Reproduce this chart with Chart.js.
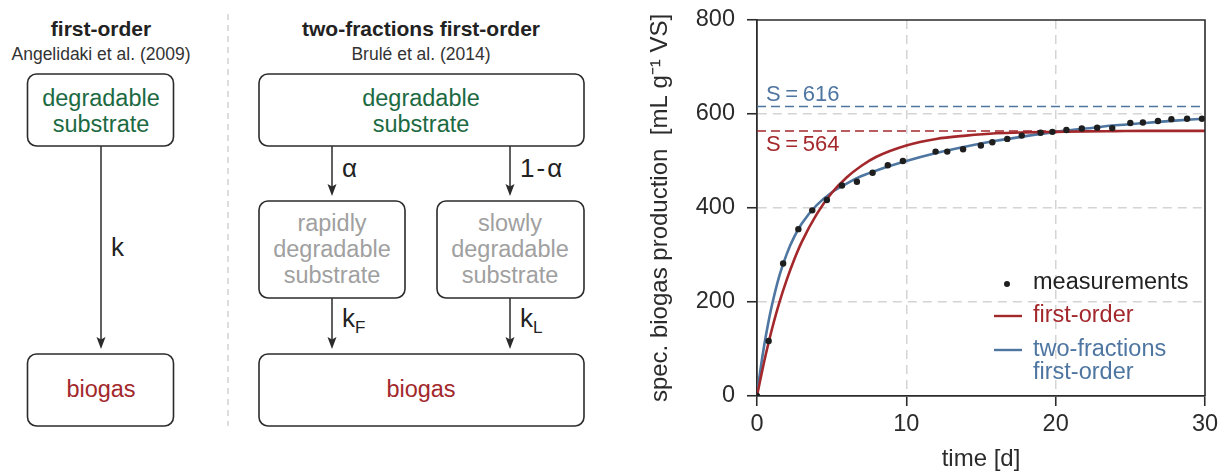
<!DOCTYPE html>
<html>
<head>
<meta charset="utf-8">
<script src="https://cdn.jsdelivr.net/npm/chart.js@4.4.0/dist/chart.umd.min.js"></script>
<style>
  html, body { margin: 0; padding: 0; background: #fff; }
  #wrap { position: relative; width: 1219px; height: 472px; overflow: hidden; font-family: 'Liberation Sans', Arial, sans-serif; }
  #diagram { position: absolute; left: 0; top: 0; }
  #chartBox { position: absolute; left: 640px; top: 0; width: 579px; height: 472px; }
</style>
</head>
<body>
<div id="wrap">
<svg id="diagram" width="640" height="472" xmlns="http://www.w3.org/2000/svg" font-family="Liberation Sans, Arial, sans-serif">
  <!-- separator -->
  <line x1="228" y1="14" x2="228" y2="426" stroke="#d2d2d2" stroke-width="1.5" stroke-dasharray="6,5"/>

  <!-- first-order -->
  <text x="101" y="28" text-anchor="middle" dominant-baseline="central" font-size="21" font-weight="bold" fill="#222">first-order</text>
  <text x="101" y="54" text-anchor="middle" dominant-baseline="central" font-size="17.5" fill="#333">Angelidaki et al. (2009)</text>
  <rect x="27.5" y="74" width="146" height="72" rx="9" ry="9" fill="none" stroke="#2b2b2b" stroke-width="1.6"/>
  <text x="101" y="98" text-anchor="middle" dominant-baseline="central" font-size="23.5" fill="#1c6a42">degradable</text>
  <text x="101" y="124" text-anchor="middle" dominant-baseline="central" font-size="23.5" fill="#1c6a42">substrate</text>
  <line x1="101" y1="146" x2="101" y2="342" stroke="#2b2b2b" stroke-width="1.5"/>
  <path d="M96.5,337 L101,349 L105.5,337 L101,339.5 Z" fill="#2b2b2b"/>
  <text x="111" y="247" dominant-baseline="central" font-size="26" fill="#222">k</text>
  <rect x="27.5" y="354" width="146" height="72" rx="9" ry="9" fill="none" stroke="#2b2b2b" stroke-width="1.6"/>
  <text x="101" y="389" text-anchor="middle" dominant-baseline="central" font-size="23.5" fill="#a3282c">biogas</text>

  <!-- two-fractions -->
  <text x="421" y="28" text-anchor="middle" dominant-baseline="central" font-size="21" font-weight="bold" fill="#222">two-fractions first-order</text>
  <text x="421" y="54" text-anchor="middle" dominant-baseline="central" font-size="17.5" fill="#333">Brulé et al. (2014)</text>
  <rect x="259" y="74" width="325" height="72" rx="9" ry="9" fill="none" stroke="#2b2b2b" stroke-width="1.6"/>
  <text x="421" y="98" text-anchor="middle" dominant-baseline="central" font-size="23.5" fill="#1c6a42">degradable</text>
  <text x="421" y="124" text-anchor="middle" dominant-baseline="central" font-size="23.5" fill="#1c6a42">substrate</text>

  <line x1="332" y1="146" x2="332" y2="190" stroke="#2b2b2b" stroke-width="1.5"/>
  <path d="M327.5,184 L332,196 L336.5,184 L332,186.5 Z" fill="#2b2b2b"/>
  <text x="342" y="168" dominant-baseline="central" font-size="26" fill="#222">α</text>
  <line x1="510" y1="146" x2="510" y2="190" stroke="#2b2b2b" stroke-width="1.5"/>
  <path d="M505.5,184 L510,196 L514.5,184 L510,186.5 Z" fill="#2b2b2b"/>
  <text x="520" y="168" dominant-baseline="central" font-size="26" fill="#222">1<tspan dx="2">-</tspan><tspan dx="2">α</tspan></text>

  <rect x="259" y="201" width="146" height="97" rx="9" ry="9" fill="none" stroke="#2b2b2b" stroke-width="1.6"/>
  <text x="332" y="223" text-anchor="middle" dominant-baseline="central" font-size="23.5" fill="#a0a0a0">rapidly</text>
  <text x="332" y="249" text-anchor="middle" dominant-baseline="central" font-size="23.5" fill="#a0a0a0">degradable</text>
  <text x="332" y="275" text-anchor="middle" dominant-baseline="central" font-size="23.5" fill="#a0a0a0">substrate</text>

  <rect x="437" y="201" width="147" height="97" rx="9" ry="9" fill="none" stroke="#2b2b2b" stroke-width="1.6"/>
  <text x="510" y="223" text-anchor="middle" dominant-baseline="central" font-size="23.5" fill="#a0a0a0">slowly</text>
  <text x="510" y="249" text-anchor="middle" dominant-baseline="central" font-size="23.5" fill="#a0a0a0">degradable</text>
  <text x="510" y="275" text-anchor="middle" dominant-baseline="central" font-size="23.5" fill="#a0a0a0">substrate</text>

  <line x1="332" y1="298" x2="332" y2="342" stroke="#2b2b2b" stroke-width="1.5"/>
  <path d="M327.5,337 L332,349 L336.5,337 L332,339.5 Z" fill="#2b2b2b"/>
  <text x="342" y="327" font-size="26" fill="#222">k<tspan font-size="17" dy="6">F</tspan></text>
  <line x1="510" y1="298" x2="510" y2="342" stroke="#2b2b2b" stroke-width="1.5"/>
  <path d="M505.5,337 L510,349 L514.5,337 L510,339.5 Z" fill="#2b2b2b"/>
  <text x="520" y="327" font-size="26" fill="#222">k<tspan font-size="17" dy="6">L</tspan></text>

  <rect x="259" y="354" width="325" height="72" rx="9" ry="9" fill="none" stroke="#2b2b2b" stroke-width="1.6"/>
  <text x="421" y="389" text-anchor="middle" dominant-baseline="central" font-size="23.5" fill="#a3282c">biogas</text>
</svg>
<div id="chartBox"><canvas id="c" width="579" height="472"></canvas></div>
</div>

<script>
// ---------- data ----------
const measTime = [0, 0.78, 1.75, 2.77, 3.7, 4.68, 5.69, 6.69, 7.74, 8.76, 9.77, 11.96, 12.74, 13.8, 14.99, 15.76, 16.76, 17.73, 18.99, 19.78, 20.72, 21.75, 22.78, 23.79, 25.0, 25.84, 26.85, 27.75, 28.8, 29.8];
const measValue = [0, 117, 282, 355, 395, 417, 448, 456, 475, 491, 500, 520, 520, 525, 533, 540, 547, 554, 560, 562, 566, 569, 571, 570, 581, 582, 585, 589, 590, 590];

const modelTime = [0, 0.25, 0.5, 0.75, 1, 1.5, 2, 2.5, 3, 4, 5, 6, 7, 8, 10, 12, 14, 16, 18, 20, 22, 24, 26, 28, 30];
const firstOrderValue = [0, 39, 76, 110, 142, 199, 248, 291, 328, 387, 432, 465, 490, 509, 533, 547, 554, 559, 561, 562, 563, 563.5, 564, 564, 564];
const twoFractionsValue = [0, 60, 111, 155, 193, 256, 303, 339, 367, 406, 433, 452, 468, 480, 500, 517, 531, 543, 553, 562, 569, 576, 581, 586, 590];

const asymptoteLabels = ['S = 616', 'S = 564'];
const asymptoteValues = [616, 564];
const asymptoteTime = [0, 30];

const xTicks = [0, 10, 20, 30];
const yTicks = [0, 200, 400, 600, 800];

const legendLabels = [['measurements'], ['first-order'], ['two-fractions', 'first-order']];

// ---------- styles ----------
const RED = '#a3282c';
const BLUE = '#4e76a1';
const DARK = '#2b2b2b';
const FONT = "'Liberation Sans', Arial, sans-serif";
const FS = 23.5;

const pts = (xs, ys) => xs.map((x, i) => ({x: x, y: ys[i]}));

const datasets = [
  { label: legendLabels[0].join(' '), data: pts(measTime, measValue), showLine: false,
    pointRadius: 3.2, pointBackgroundColor: '#1e1e1e', pointBorderWidth: 0, borderColor: '#1e1e1e' },
  { label: legendLabels[1].join(' '), data: pts(modelTime, firstOrderValue), showLine: true,
    borderColor: RED, borderWidth: 2.6, pointRadius: 0, cubicInterpolationMode: 'monotone', fill: false },
  { label: legendLabels[2].join(' '), data: pts(modelTime, twoFractionsValue), showLine: true,
    borderColor: BLUE, borderWidth: 2.6, pointRadius: 0, cubicInterpolationMode: 'monotone', fill: false },
  { label: asymptoteLabels[0], data: asymptoteTime.map(t => ({x: t, y: asymptoteValues[0]})), showLine: true,
    borderColor: BLUE, borderWidth: 1.5, borderDash: [9, 5], pointRadius: 0, fill: false },
  { label: asymptoteLabels[1], data: asymptoteTime.map(t => ({x: t, y: asymptoteValues[1]})), showLine: true,
    borderColor: RED, borderWidth: 1.5, borderDash: [9, 5], pointRadius: 0, fill: false }
];

const decorPlugin = {
  id: 'decor',
  afterDatasetsDraw(chart) {
    const {ctx, chartArea: a, scales: {x, y}} = chart;
    ctx.save();
    // frame top / right
    ctx.strokeStyle = DARK; ctx.lineWidth = 1.6;
    ctx.beginPath();
    ctx.moveTo(a.left, a.top); ctx.lineTo(a.right, a.top); ctx.lineTo(a.right, a.bottom);
    ctx.stroke();
    // asymptote labels
    ctx.font = '22px ' + FONT;
    try { ctx.wordSpacing = '-1.5px'; } catch (e) {}
    ctx.textBaseline = 'middle'; ctx.textAlign = 'left';
    ctx.fillStyle = BLUE;
    ctx.fillText(asymptoteLabels[0], x.getPixelForValue(0) + 9, y.getPixelForValue(asymptoteValues[0]) - 12);
    ctx.fillStyle = RED;
    ctx.fillText(asymptoteLabels[1], x.getPixelForValue(0) + 9, y.getPixelForValue(asymptoteValues[1]) + 14);
    try { ctx.wordSpacing = '0px'; } catch (e) {}
    // legend
    const lx = a.left + 276, rows = [a.top + 263, a.top + 296, a.top + 330];
    ctx.font = FS + 'px ' + FONT;
    ctx.fillStyle = '#1e1e1e';
    ctx.beginPath(); ctx.arc(a.left + 250, rows[0] + 1, 3, 0, Math.PI * 2); ctx.fill();
    ctx.fillStyle = '#222';
    ctx.fillText(legendLabels[0][0], lx, rows[0]);
    ctx.strokeStyle = RED; ctx.lineWidth = 2.4;
    ctx.beginPath(); ctx.moveTo(a.left + 237, rows[1]); ctx.lineTo(a.left + 265, rows[1]); ctx.stroke();
    ctx.fillStyle = RED;
    ctx.fillText(legendLabels[1][0], lx, rows[1]);
    ctx.strokeStyle = BLUE;
    ctx.beginPath(); ctx.moveTo(a.left + 237, rows[2]); ctx.lineTo(a.left + 265, rows[2]); ctx.stroke();
    ctx.fillStyle = BLUE;
    legendLabels[2].forEach((t, i) => ctx.fillText(t, lx, rows[2] + i * 23));
    ctx.restore();
  }
};

const gridColor = (edgeVals) => (c) => (c.tick && edgeVals.includes(c.tick.value)) ? 'rgba(0,0,0,0)' : '#d4d4d4';

new Chart(document.getElementById('c'), {
  type: 'scatter',
  data: { datasets },
  plugins: [decorPlugin],
  options: {
    responsive: false,
    animation: false,
    devicePixelRatio: 1,
    layout: { padding: { top: 20, right: 14, left: 0, bottom: 0 } },
    plugins: { legend: { display: false }, tooltip: { enabled: false } },
    scales: {
      x: {
        type: 'linear', min: 0, max: 30,
        afterBuildTicks: s => { s.ticks = xTicks.map(v => ({value: v})); },
        afterFit: s => { s.height = 76; s.paddingLeft = 0; s.paddingRight = 0; },
        grid: { color: gridColor([0, 30]), lineWidth: 1.5, tickLength: 10, tickColor: DARK, tickWidth: 1.6, tickBorderDash: [] },
        border: { display: true, color: DARK, width: 1.8, dash: [9, 6] },
        ticks: { color: '#2b2b2b', font: { family: FONT, size: FS }, padding: 4, maxRotation: 0 },
        title: { display: true, text: 'time [d]', color: '#2b2b2b', font: { family: FONT, size: 24, lineHeight: 1.0 }, padding: { top: 0, bottom: 1 } }
      },
      y: {
        type: 'linear', min: 0, max: 800,
        afterBuildTicks: s => { s.ticks = yTicks.map(v => ({value: v})); },
        afterFit: s => { s.width = 117; s.paddingTop = 0; s.paddingBottom = 0; },
        grid: { color: gridColor([0, 800]), lineWidth: 1.5, tickLength: 10, tickColor: DARK, tickWidth: 1.6, tickBorderDash: [] },
        border: { display: true, color: DARK, width: 1.8, dash: [9, 6] },
        ticks: { color: '#2b2b2b', font: { family: FONT, size: FS }, padding: 12 },
        title: { display: true, text: 'spec. biogas production  [mL g⁻¹ VS]', color: '#2b2b2b', font: { family: FONT, size: 24 }, padding: { top: 6, bottom: 0 } }
      }
    }
  }
});
</script>
</body>
</html>
